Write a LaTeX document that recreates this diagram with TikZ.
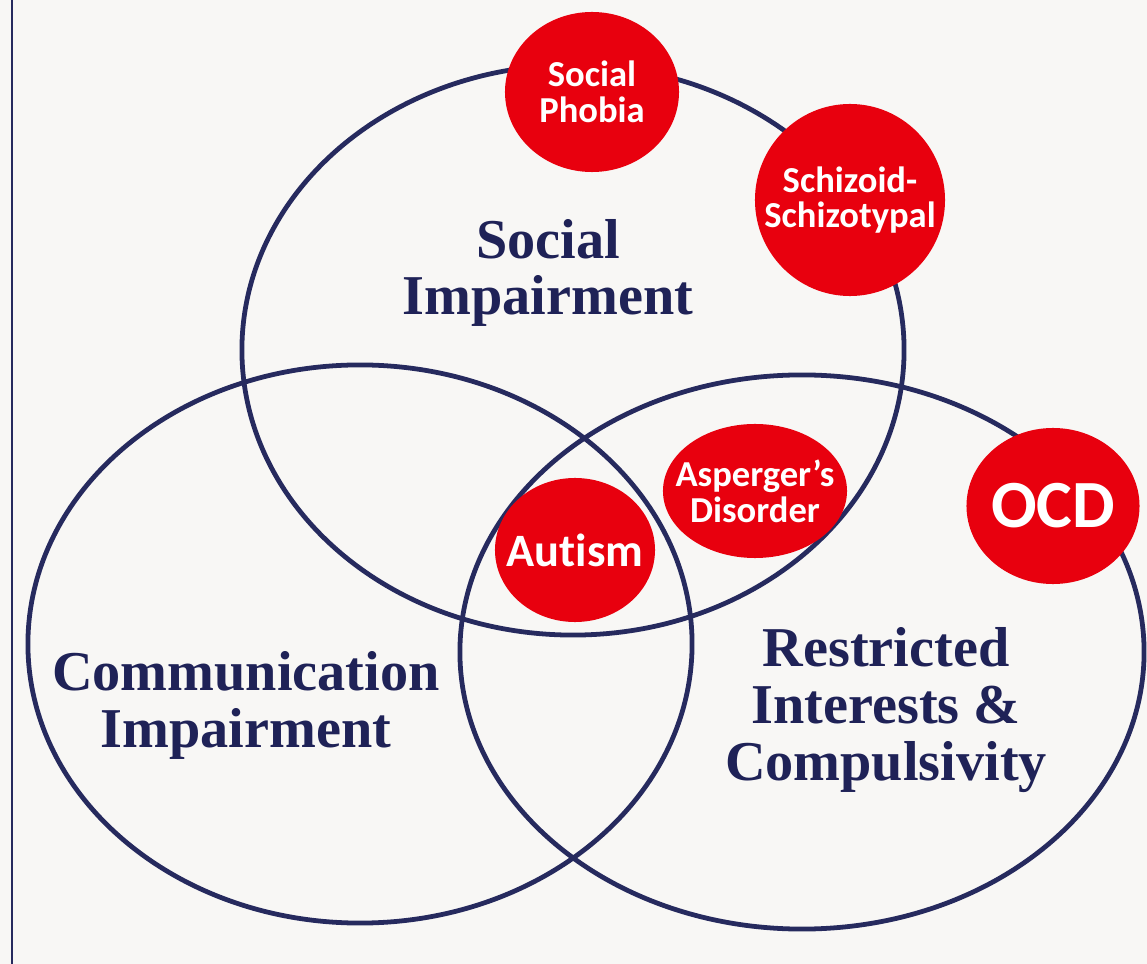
\documentclass[tikz,border=0pt]{standalone}
\usepackage{fontspec}
\setmainfont{Liberation Serif}
\newfontfamily\tagfont{Carlito}[Ligatures=NoCommon]
\usetikzlibrary{shapes.geometric}
\definecolor{paper}{HTML}{F8F7F5}
\definecolor{rimnavy}{HTML}{262A5E}
\definecolor{headnavy}{HTML}{1F2257}
\definecolor{disred}{HTML}{E8000E}
\tikzset{
  venn/.style={
    ellipse, draw=rimnavy, line width=3.4pt, inner sep=0pt
  },
  areatext/.style={
    text=headnavy, align=center, inner sep=0pt,
    font=\bfseries\fontsize{40}{40.5}\selectfont
  },
  disorder/.style={
    ellipse, fill=disred, inner sep=0pt
  },
  tagtext/.style={
    text=white, inner sep=0pt, align=center,
    font=\tagfont\bfseries\fontsize{26}{25.5}\selectfont
  },
}

\begin{document}
\begin{tikzpicture}[x=0.025cm, y=-0.025cm]

% --- Page ---
\fill[paper] (0,0) rectangle (1147,964);
\useasboundingbox (0,0) rectangle (1147,964);
\draw[rimnavy, line width=1.6pt] (12,0) -- (12,964);

% --- Areas ---
\node[venn, minimum width=16.55cm, minimum height=14.25cm] (social) at (573,350) {};
\node[venn, minimum width=16.6cm, minimum height=13.95cm] (commun) at (360,644) {};
\node[venn, minimum width=17.1cm, minimum height=13.85cm] (restrict) at (802,652) {};

\node[areatext] (sociallbl) at (548,273) {Social\\Impairment};
\node[areatext] (communlbl) at (246,705) {Communication\\Impairment};
\node[areatext] (restrictlbl) at (886,710) {Restricted\\Interests \&\\Compulsivity};

% --- Disorders ---
\node[disorder, minimum width=4.35cm, minimum height=4.0cm,
  label={[tagtext]center:Social\\Phobia}] (phobia) at (592,92) {};
\node[disorder, minimum width=4.75cm, minimum height=4.8cm,
  label={[tagtext]center:Schizoid-\\Schizotypal}] (schizo) at (850,200) {};
\node[disorder, minimum width=4.6cm, minimum height=3.35cm,
  label={[tagtext]center:Asperger’s\\Disorder}] (asperger) at (755,491) {};
\node[disorder, minimum width=4.0cm, minimum height=3.6cm,
  label={[tagtext, font=\tagfont\bfseries\fontsize{33}{33}\selectfont]center:Autism}] (autism) at (575,550) {};
\node[disorder, minimum width=4.325cm, minimum height=3.9cm,
  label={[tagtext, font=\tagfont\bfseries\fontsize{48}{48}\selectfont]center:OCD}] (ocd) at (1053,506) {};

\end{tikzpicture}
\end{document}
